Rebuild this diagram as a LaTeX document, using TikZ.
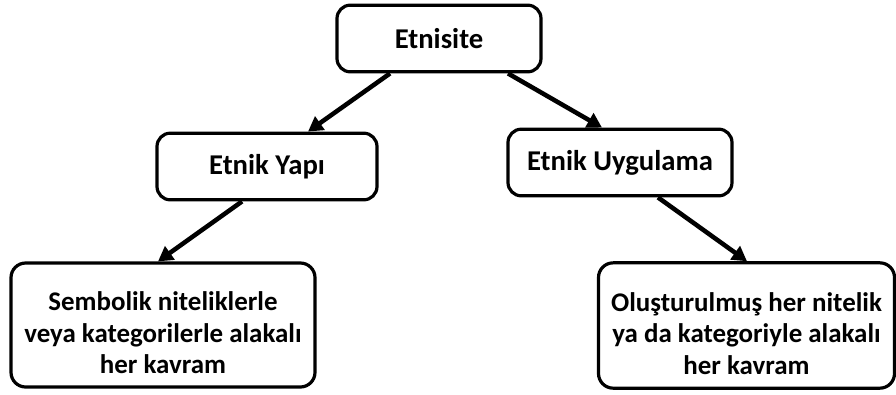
\documentclass[tikz,border=0pt]{standalone}
\usepackage{fontspec}
\setmainfont{Carlito}
\usetikzlibrary{arrows.meta,calc}
\tikzset{
  box/.style={draw, line width=2.4pt, rounded corners=10pt, align=center,
    font=\bfseries\fontsize{21.5}{25.5}\selectfont, inner sep=0pt},
  bigbox/.style={box, font=\bfseries\fontsize{20.2}{23.6}\selectfont, rounded corners=11pt},
  link/.style={line width=3.4pt, -{Triangle[length=11pt,width=12pt]}}
}
\newcommand{\lowstrut}{\rule{0pt}{26pt}}
\begin{document}
\begin{tikzpicture}[x=0.75pt,y=-0.75pt]
\useasboundingbox (0,0) rectangle (896,394);
\node[box, minimum width=153pt, minimum height=50pt] (top) at (439,38.5) {Etnisite};
\node[box, minimum width=165pt, minimum height=50pt] (yapi) at (267,166.5) {Etnik Yap\i};
\node[box, minimum width=168pt, minimum height=50pt] (uyg) at (620,162.5) {Etnik Uygulama};
\node[bigbox, minimum width=228pt, minimum height=93pt] (bl) at (163,325) {\lowstrut Sembolik niteliklerle\\veya kategorilerle alakal\i\\her kavram};
\node[bigbox, minimum width=222pt, minimum height=94pt] (br) at (746.5,325.5) {\lowstrut Olu\c{s}turulmu\c{s} her nitelik\\ya da kategoriyle alakal\i\\her kavram};
\draw[link] ($(top.south)+(-49,0)$) -- ($(yapi.north)+(41,0)$);
\draw[link] ($(top.south)+(69,0)$) -- ($(uyg.north)+(-18,0)$);
\draw[link] ($(yapi.south)+(-25,0)$) -- ($(bl.north)+(-5,0)$);
\draw[link] ($(uyg.south)+(38,0)$) -- ($(br.north)+(0.5,0)$);
\end{tikzpicture}
\end{document}
